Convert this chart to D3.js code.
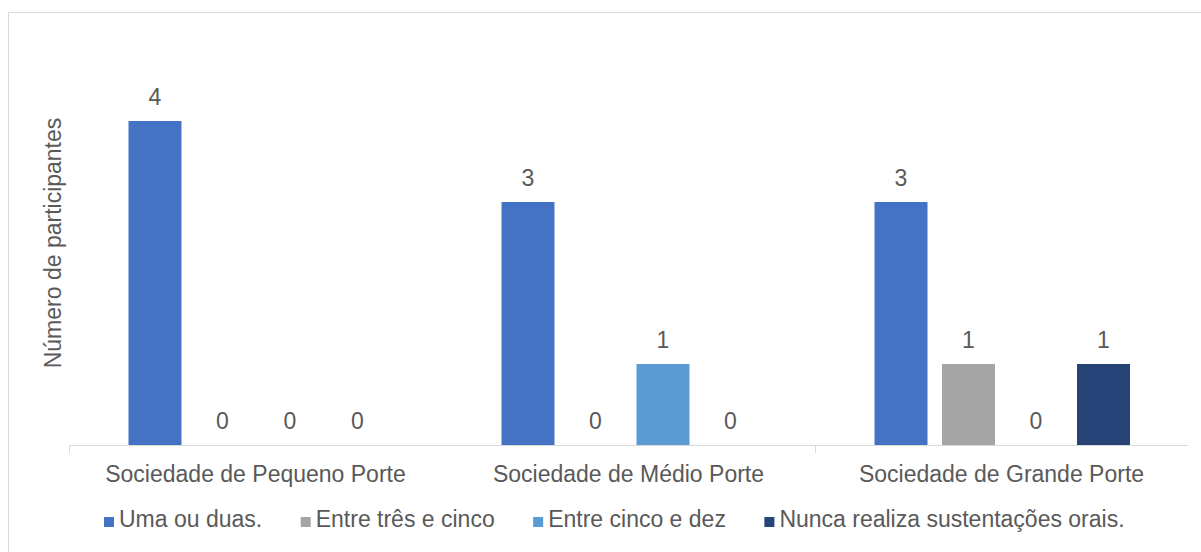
<!DOCTYPE html>
<html>
<head>
    <meta charset="UTF-8">
    <title>Número de participantes</title>
    <style>
        body {
            margin: 0;
            overflow: hidden;
            background-color: #ffffff;
        }
        text {
            font-family: "Liberation Sans", Arial, sans-serif;
            fill: #595959;
        }
    </style>
    <script src="https://cdn.jsdelivr.net/npm/d3@7"></script>
</head>
<body>
    <script>
        // dados
        const categorias = ["Sociedade de Pequeno Porte", "Sociedade de Médio Porte", "Sociedade de Grande Porte"];
        const series = ["Uma ou duas.", "Entre três e cinco", "Entre cinco e dez", "Nunca realiza sustentações orais."];
        const umaOuDuas = [4, 3, 3];
        const entreTresECinco = [0, 0, 1];
        const entreCincoEDez = [0, 1, 0];
        const nunca = [0, 0, 1];
        const cores = ["#4472C4", "#A5A5A5", "#5B9BD5", "#264478"];

        const valores = [umaOuDuas, entreTresECinco, entreCincoEDez, nunca];

        const width = 1201;
        const height = 552;
        const margin = {top: 40, right: 13, bottom: 107, left: 69};

        const svg = d3.select('body')
            .append('svg')
            .attr('width', width)
            .attr('height', height);

        // borda da area do grafico
        svg.append('rect')
            .attr('x', 8.5)
            .attr('y', 12.5)
            .attr('width', width + 20)
            .attr('height', height + 20)
            .attr('fill', 'none')
            .attr('stroke', '#D9D9D9');

        const x0 = d3.scaleBand()
            .domain(categorias)
            .range([margin.left, width - margin.right])
            .padding(0);

        const x1 = d3.scaleBand()
            .domain(series)
            .range([59.5, 315])
            .paddingInner(0.2148)
            .paddingOuter(0);

        const y = d3.scaleLinear()
            .domain([0, 5])
            .range([height - margin.bottom, margin.top]);

        const linhas = [];
        categorias.forEach((c, i) => {
            series.forEach((s, j) => {
                linhas.push({cat: c, serie: s, valor: valores[j][i], cor: cores[j]});
            });
        });

        // eixo x
        svg.append('line')
            .attr('x1', x0.range()[0])
            .attr('x2', x0.range()[1])
            .attr('y1', y(0) + 0.5)
            .attr('y2', y(0) + 0.5)
            .attr('stroke', '#D9D9D9');

        // marcas do eixo (so aparecem na primeira e terceira categoria no original)
        svg.selectAll('.tick')
            .data([categorias[0], categorias[2]])
            .join('line')
            .attr('class', 'tick')
            .attr('x1', d => x0(d) + 0.5)
            .attr('x2', d => x0(d) + 0.5)
            .attr('y1', y(0))
            .attr('y2', y(0) + 8)
            .attr('stroke', '#D9D9D9');

        svg.selectAll('.bar')
            .data(linhas)
            .join('rect')
            .attr('class', 'bar')
            .attr('x', d => x0(d.cat) + x1(d.serie))
            .attr('y', d => y(d.valor))
            .attr('width', x1.bandwidth())
            .attr('height', d => y(0) - y(d.valor))
            .attr('fill', d => d.cor);

        svg.selectAll('.rotulo')
            .data(linhas)
            .join('text')
            .attr('class', 'rotulo')
            .attr('x', d => x0(d.cat) + x1(d.serie) + x1.bandwidth() / 2)
            .attr('y', d => y(d.valor) - 16)
            .attr('text-anchor', 'middle')
            .style('font-size', '23px')
            .text(d => d.valor);

        // rotulos das categorias
        svg.selectAll('.cat')
            .data(categorias)
            .join('text')
            .attr('class', 'cat')
            .attr('x', d => x0(d) + x0.bandwidth() / 2)
            .attr('y', 482)
            .attr('text-anchor', 'middle')
            .style('font-size', '23px')
            .text(d => d);

        // titulo do eixo y
        svg.append('text')
            .attr('transform', 'translate(61, 243) rotate(-90)')
            .attr('text-anchor', 'middle')
            .style('font-size', '23px')
            .text('Número de participantes');

        // legenda
        let lx = 104;
        series.forEach((s, j) => {
            svg.append('rect')
                .attr('x', lx)
                .attr('y', 517)
                .attr('width', 10)
                .attr('height', 10)
                .attr('fill', cores[j]);
            const t = svg.append('text')
                .attr('x', lx + 15)
                .attr('y', 527)
                .style('font-size', '23px')
                .text(s);
            lx = lx + 15 + t.node().getComputedTextLength() + 38.5;
        });
    </script>
</body>
</html>
